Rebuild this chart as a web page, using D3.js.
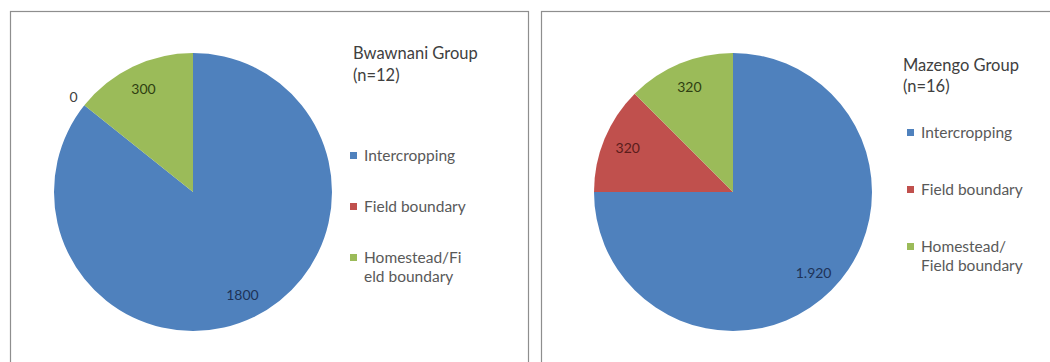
<!DOCTYPE html>
<html>
<head>
<meta charset="utf-8">
<script src="https://cdn.jsdelivr.net/npm/d3@7"></script>
<style>
  html, body { margin: 0; padding: 0; background: #fff; }
  svg { display: block; }
  text { font-family: Lato, "Open Sans", sans-serif; }
</style>
</head>
<body>
<svg id="chart" width="1050" height="362"></svg>
<script>
// Data
const categories = ["Intercropping", "Field boundary", "Homestead/Field boundary"];
const colors = ["#4f81bd", "#c0504d", "#9bbb59"];
const labelColors = ["#1e3358", "#5a1d1b", "#2f3f12"];

const bwawnaniTitle = ["Bwawnani Group", "(n=12)"];
const bwawnaniValues = [1800, 0, 300];
const bwawnaniLabels = ["1800", "0", "300"];
const bwawnaniLegend = [["Intercropping"], ["Field boundary"], ["Homestead/Fi", "eld boundary"]];

const mazengoTitle = ["Mazengo Group", "(n=16)"];
const mazengoValues = [1920, 320, 320];
const mazengoLabels = ["1.920", "320", "320"];
const mazengoLegend = [["Intercropping"], ["Field boundary"], ["Homestead/", "Field boundary"]];

const svg = d3.select("#chart");

function drawPanel(cfg) {
  const g = svg.append("g");

  // panel frame
  g.append("rect")
    .attr("x", cfg.frame[0] + 0.5).attr("y", cfg.frame[1] + 0.5)
    .attr("width", cfg.frame[2]).attr("height", cfg.frame[3])
    .attr("fill", "#fff").attr("stroke", "#8e8e8e").attr("stroke-width", 1.2);

  const r = cfg.radius;
  const pie = d3.pie().sort(null).value(d => d.value);
  const arcs = pie(cfg.values.map((v, i) => ({ value: v, i, label: cfg.labels[i] })));
  const arc = d3.arc().innerRadius(0).outerRadius(r);

  const pg = g.append("g").attr("transform", `translate(${cfg.cx},${cfg.cy})`);
  pg.selectAll("path.slice")
    .data(arcs.filter(a => a.data.value > 0))
    .join("path")
    .attr("class", "slice")
    .attr("d", arc)
    .attr("fill", d => colors[d.data.i]);

  // data labels: inside the slice, or just outside for an empty slice
  const inner = d3.arc().innerRadius(r * 0.82).outerRadius(r * 0.82);
  const outer = d3.arc().innerRadius(r * 1.1).outerRadius(r * 1.1);
  pg.selectAll("text.val")
    .data(arcs)
    .join("text")
    .attr("class", "val")
    .attr("transform", d => `translate(${(d.data.value > 0 ? inner : outer).centroid(d)})`)
    .attr("text-anchor", "middle")
    .attr("dy", "0.35em")
    .attr("font-size", 14)
    .attr("fill", d => d.data.value > 0 ? labelColors[d.data.i] : "#404040")
    .text(d => d.data.label);

  // title
  const t = g.append("text")
    .attr("x", cfg.titleX).attr("y", cfg.titleY)
    .attr("font-size", 16.5).attr("fill", "#404040");
  cfg.title.forEach((line, k) => {
    t.append("tspan").attr("x", cfg.titleX).attr("dy", k === 0 ? 0 : cfg.titleGap).text(line);
  });

  // legend
  const lg = g.append("g");
  cfg.legend.forEach((lines, i) => {
    const y = cfg.legendY[i];
    lg.append("rect")
      .attr("x", cfg.keyX).attr("y", y - 4)
      .attr("width", 7).attr("height", 7)
      .attr("fill", colors[i]);
    const lt = lg.append("text")
      .attr("x", cfg.keyX + 14).attr("y", y)
      .attr("font-size", 15.5).attr("fill", "#595959");
    lines.forEach((line, k) => {
      lt.append("tspan").attr("x", cfg.keyX + 14).attr("dy", k === 0 ? "0.35em" : 19).text(line);
    });
  });
}

drawPanel({
  frame: [10, 11, 518, 380],
  cx: 193, cy: 192, radius: 139,
  values: bwawnaniValues, labels: bwawnaniLabels,
  title: bwawnaniTitle, titleX: 353, titleY: 59, titleGap: 22,
  legend: bwawnaniLegend, keyX: 350, legendY: [156, 207, 258]
});

drawPanel({
  frame: [541, 11, 530, 380],
  cx: 733, cy: 192, radius: 139,
  values: mazengoValues, labels: mazengoLabels,
  title: mazengoTitle, titleX: 903, titleY: 71, titleGap: 21,
  legend: mazengoLegend, keyX: 907, legendY: [133, 190, 247]
});
</script>
</body>
</html>
